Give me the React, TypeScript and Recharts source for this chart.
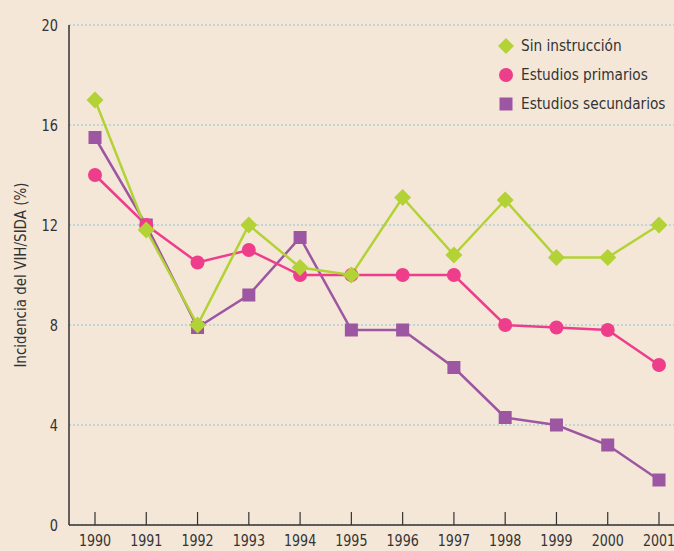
import React from 'react'
import { LineChart, Line, XAxis, YAxis, CartesianGrid, Legend } from 'recharts'

const years = ['1990', '1991', '1992', '1993', '1994', '1995', '1996', '1997', '1998', '1999', '2000', '2001']
const sinInstruccion = [17, 11.8, 8, 12, 10.3, 10, 13.1, 10.8, 13, 10.7, 10.7, 12]
const primarios = [14, 12, 10.5, 11, 10, 10, 10, 10, 8, 7.9, 7.8, 6.4]
const secundarios = [15.5, 12, 7.9, 9.2, 11.5, 7.8, 7.8, 6.3, 4.3, 4, 3.2, 1.8]
const yTicks = [0, 4, 8, 12, 16, 20]

const GREEN = '#b2d235'
const PINK = '#ee3d8b'
const PURPLE = '#9d56a1'
const FONT = "'Liberation Sans Narrow', 'DejaVu Sans Condensed', 'Roboto', sans-serif"
const TEXT = '#333333'

const data = years.map((year, i) => ({
  year,
  sin: sinInstruccion[i],
  prim: primarios[i],
  sec: secundarios[i],
}))

const Diamond = (props: any) => {
  const { cx, cy } = props
  if (cx == null || cy == null) return null
  const s = 8.5
  return (
    <polygon
      points={`${cx},${cy - s} ${cx + s},${cy} ${cx},${cy + s} ${cx - s},${cy}`}
      fill={GREEN}
    />
  )
}

const Dot = (props: any) => {
  const { cx, cy } = props
  if (cx == null || cy == null) return null
  return <circle cx={cx} cy={cy} r={7} fill={PINK} />
}

const Square = (props: any) => {
  const { cx, cy } = props
  if (cx == null || cy == null) return null
  return <rect x={cx - 6.5} y={cy - 6.5} width={13} height={13} fill={PURPLE} />
}

// year labels: slightly squeezed to mimic the condensed face of the original
const XTick = (props: any) => {
  const { x, y, payload } = props
  return (
    <g>
      <line x1={x} x2={x} y1={y - 13} y2={y} stroke={TEXT} strokeWidth={1.2} />
      <text
        transform={`translate(${x},${y + 21}) scale(0.88,1)`}
        textAnchor="middle"
        fill={TEXT}
        fontSize={16}
        fontFamily={FONT}
      >
        {payload.value}
      </text>
    </g>
  )
}

const YTick = (props: any) => {
  const { x, y, payload } = props
  return (
    <text
      transform={`translate(${x},${y + 6}) scale(0.9,1)`}
      textAnchor="end"
      fill={TEXT}
      fontSize={16}
      fontFamily={FONT}
    >
      {payload.value}
    </text>
  )
}

const legendItems = [
  { label: 'Sin instrucción', marker: 'diamond' },
  { label: 'Estudios primarios', marker: 'circle' },
  { label: 'Estudios secundarios', marker: 'square' },
]

const LegendContent = () => (
  <div style={{ fontFamily: FONT, fontSize: 16, color: TEXT }}>
    {legendItems.map((item) => (
      <div key={item.label} style={{ display: 'flex', alignItems: 'center', height: 29 }}>
        <svg width={20} height={20} style={{ marginRight: 5 }}>
          {item.marker === 'diamond' && <polygon points="10,2 18,10 10,18 2,10" fill={GREEN} />}
          {item.marker === 'circle' && <circle cx={10} cy={10} r={7} fill={PINK} />}
          {item.marker === 'square' && <rect x={3.5} y={3.5} width={13} height={13} fill={PURPLE} />}
        </svg>
        <span style={{ display: 'inline-block', transform: 'scaleX(0.95)', transformOrigin: 'left center' }}>
          {item.label}
        </span>
      </div>
    ))}
  </div>
)

export default function App() {
  return (
    <div style={{ position: 'absolute', left: 0, top: 0, width: 674, height: 551, background: '#f4e7d8' }}>
      <LineChart width={674} height={551} data={data} margin={{ top: 25, right: 0, bottom: 0, left: 0 }}>
        <CartesianGrid vertical={false} stroke="#8ec3d0" strokeDasharray="2 2" strokeWidth={1.2} />
        <XAxis
          dataKey="year"
          height={26}
          padding={{ left: 26, right: 15 }}
          stroke={TEXT}
          strokeWidth={1.5}
          tickLine={false}
          tickSize={0}
          tickMargin={0}
          tick={<XTick />}
          interval={0}
        />
        <YAxis
          width={69}
          domain={[0, 20]}
          ticks={yTicks}
          stroke={TEXT}
          strokeWidth={1.5}
          tickLine={false}
          tickMargin={5}
          tick={<YTick />}
          label={{
            value: 'Incidencia del VIH/SIDA (%)',
            angle: -90,
            position: 'center',
            dx: -14,
            style: { fill: TEXT, fontSize: 15, fontFamily: FONT, textAnchor: 'middle' },
          }}
        />
        <Legend
          layout="vertical"
          align="center"
          verticalAlign="middle"
          content={<LegendContent />}
          wrapperStyle={{ top: 31, left: 496, width: 180 }}
        />
        <Line dataKey="sec" stroke={PURPLE} strokeWidth={2.5} dot={<Square />} isAnimationActive={false} />
        <Line dataKey="prim" stroke={PINK} strokeWidth={2.5} dot={<Dot />} isAnimationActive={false} />
        <Line dataKey="sin" stroke={GREEN} strokeWidth={2.5} dot={<Diamond />} isAnimationActive={false} />
      </LineChart>
    </div>
  )
}
